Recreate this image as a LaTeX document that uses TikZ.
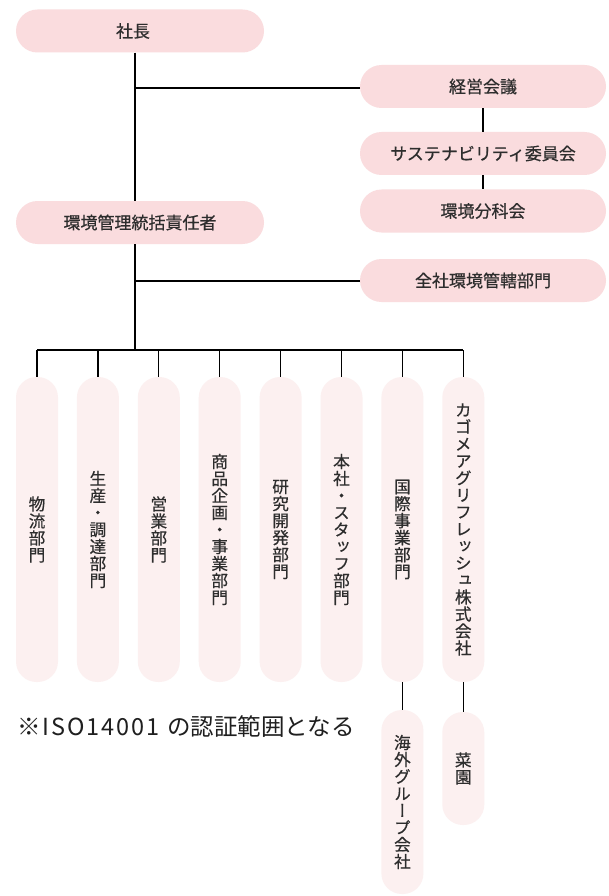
\documentclass[tikz,border=0pt]{standalone}
\usepackage{fontspec}
\setmainfont{Noto Sans CJK JP}
\newfontfamily\jp[FakeBold=0.6]{Noto Sans CJK JP}
\newfontfamily\vjp[RawFeature=+vert,FakeBold=0.6]{Noto Sans CJK JP}
\newfontfamily\notefont{Noto Sans CJK JP}
\definecolor{pinkA}{RGB}{250,220,222}
\definecolor{pinkB}{RGB}{252,240,240}
\definecolor{txt}{RGB}{45,45,45}
\begin{document}
\begin{tikzpicture}[x=1pt,y=-1pt,
  topbox/.style={draw=none,fill=pinkA,rounded corners=21.5pt,minimum width=248pt,minimum height=43pt,inner sep=0pt,text=txt,font=\jp\fontsize{17}{19}\selectfont},
  rbox/.style={topbox,minimum width=246pt},
  vbox/.style={draw=none,fill=pinkB,rounded corners=20.5pt,minimum width=42pt,inner sep=0pt,text=txt,align=center,font=\vjp\fontsize{16.6}{17}\selectfont},
  conn/.style={draw=black,line width=1.2pt}]
\useasboundingbox (0,0) rectangle (608,896);
\fill[white] (0,0) rectangle (608,896);
% top column
\node[topbox] (shacho) at (140,31) {\hspace{-14pt}社長};
\node[topbox] (sekinin) at (140,222.5) {環境管理統括責任者};
\node[rbox] (keiei) at (483,86.5) {経営会議};
\node[rbox] (sustain) at (483,153.5) {サステナビリティ委員会};
\node[rbox] (bunka) at (483,211) {環境分科会};
\node[rbox] (zensha) at (483,280.5) {全社環境管轄部門};
% spine coordinates
\coordinate (s1) at (135,88);
\coordinate (s2) at (135,281);
\coordinate (bus) at (135,350);
\draw[conn] (s1 |- shacho.south) -- (s1 |- sekinin.north);
\draw[conn] (s1) -- (keiei.west |- s1);
\draw[conn] (keiei) -- (sustain);
\draw[conn] (sustain) -- (bunka);
\draw[conn] (s2 |- sekinin.south) -- (bus);
\draw[conn] (s2) -- (zensha.west |- s2);
% vertical boxes
\foreach \i/\name/\label in {
  0/d1/{物\\流\\部\\門},
  1/d2/{生\\産\\・\\調\\達\\部\\門},
  2/d3/{営\\業\\部\\門},
  3/d4/{商\\品\\企\\画\\・\\事\\業\\部\\門},
  4/d5/{研\\究\\開\\発\\部\\門},
  5/d6/{本\\社\\・\\ス\\タ\\ッ\\フ\\部\\門},
  6/d7/{国\\際\\事\\業\\部\\門},
  7/d8/{カ\\ゴ\\メ\\ア\\グ\\リ\\フ\\レ\\ッ\\シ\\ュ\\株\\式\\会\\社}}{
  \node[vbox,minimum height=305pt] (\name) at ({37+60.9*\i},529.5) {\label};
}
\draw[conn] (d1.north |- bus) -- (d8.north |- bus);
\foreach \name in {d1,d2,d3,d4,d5,d6,d7,d8}{
  \draw[conn] (\name.north |- bus) -- (\name.north);
}
\node[vbox,minimum height=184pt] (kaigai) at (d7 |- 0,802) {海\\外\\グ\\ル\\ー\\プ\\会\\社};
\node[vbox,minimum height=113pt] (saien) at (d8 |- 0,768.5) {菜\\園};
\draw[conn] (d7.south) -- (kaigai.north);
\draw[conn] (d8.south) -- (saien.north);
\node[anchor=west,inner sep=0pt,text=black!88,font=\notefont\fontsize{23.5}{25}\selectfont] (note) at (17,727) {※\hspace{2pt}{\addfontfeatures{LetterSpace=8}ISO14001}\hspace{8pt}の認証範囲となる};
\end{tikzpicture}
\end{document}
